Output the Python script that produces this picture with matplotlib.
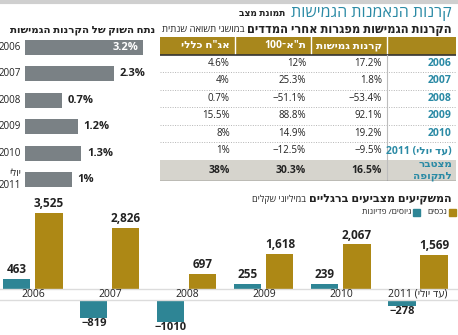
import numpy as np
import matplotlib
matplotlib.use('Agg')
import matplotlib.pyplot as plt
from matplotlib.patches import Rectangle

plt.rcParams['font.family'] = ['Open Sans', 'DejaVu Sans']


def heb(s):
    # matplotlib has no bidi support, so hebrew is written in visual order
    return s[::-1]


# --- data ---
share_labels = ['2006', '2007', '2008', '2009', '2010', heb('יולי') + '\n2011']
share_values = [3.2, 2.3, 0.7, 1.2, 1.3, 1.0]

row_labels = ['2006', '2007', '2008', '2009', '2010', '2011 (' + heb('עד יולי') + ')']
total_label = heb('מצטבר') + '\n' + heb('לתקופה')
col_headers = [heb('קרנות גמישות'), '100' + '\u05be' + heb('ת"א'), heb('אג"ח כללי')]
funds = [17.2, 1.8, -53.4, 92.1, 19.2, -9.5]
ta100 = [12, 25.3, -51.1, 88.8, 14.9, -12.5]
bonds = [4.6, 4, 0.7, 15.5, 8, 1]
totals = [16.5, 30.3, 38]

years = ['2006', '2007', '2008', '2009', '2010', '2011 (' + heb('עד יולי') + ')']
flows = [463, -819, -1010, 255, 239, -278]
assets = [3525, 2826, 697, 1618, 2067, 1569]

# --- colours ---
TEAL_T = '#2a8aa5'
TEAL = '#2e8595'
GOLD = '#ad8815'
GRAY = '#7a8185'
DARK = '#222222'
TOTAL_BG = '#d6d4cd'

W, H = 458, 335
fig = plt.figure(figsize=(W / 100, H / 100), dpi=100)


def fx(x):
    return x / W


def fy(y):
    return 1 - y / H


def pct(v):
    return ('%g%%' % abs(v)) if v >= 0 else '\u2212%g%%' % abs(v)


renderer = fig.canvas.get_renderer()


def left_of(t, text, gap=4, **kw):
    # put a second text run to the left of an existing right-aligned one
    bb = t.get_window_extent(renderer=renderer)
    x, y = t.get_position()
    return fig.text((bb.x0 - gap) / W, y, text, ha='right', va='center', **kw)


# --- header ---
fig.add_artist(plt.Line2D([0, 1], [fy(2), fy(2)], color='#cfcfcf', lw=3))
t = fig.text(fx(452), fy(13), heb('קרנות הנאמנות הגמישות'), ha='right', va='center',
             color=TEAL_T, fontsize=11.5)
left_of(t, heb('תמונת מצב'), gap=6, fontsize=6.5, fontweight='bold', color=DARK)

t = fig.text(fx(452), fy(30), heb('הקרנות הגמישות מפגרות אחרי המדדים'), ha='right',
             va='center', fontsize=8.3, fontweight='bold', color=DARK)
left_of(t, heb('במושגי תשואה שנתית'), gap=3, fontsize=6.8, color=DARK)

fig.text(fx(155), fy(30), heb('נתח השוק של הקרנות הגמישות'), ha='right', va='center',
         fontsize=7.4, fontweight='bold', color=DARK)

# --- market share bars ---
base = -0.44
ax_share = fig.add_axes([fx(25), fy(193), 130 / W, 159 / H])
ys = np.arange(len(share_values))
ax_share.barh(ys, np.array(share_values) - base, left=base, height=0.57, color=GRAY)
ax_share.set_xlim(base, base + 130 / 32.4)
ax_share.set_ylim(len(ys) - 0.5, -0.5)
ax_share.axis('off')
for i, v in enumerate(share_values):
    txt = '%g%%' % v
    if i == 0:
        ax_share.annotate(txt, (v, i), xytext=(-3, 0), textcoords='offset points',
                          ha='right', va='center', color='white', fontsize=8,
                          fontweight='bold')
    else:
        ax_share.annotate(txt, (v, i), xytext=(4, 0), textcoords='offset points',
                          ha='left', va='center', color=DARK, fontsize=8,
                          fontweight='bold')
    ax_share.annotate(share_labels[i], (0, i), xycoords=('axes fraction', 'data'),
                      xytext=(-3, 0), textcoords='offset points', ha='right',
                      va='center', fontsize=7, color=DARK, linespacing=1.1)

# --- table ---
ax_tab = fig.add_axes([fx(160), fy(181), 296 / W, 144 / H])
ax_tab.set_xlim(0, 296)
ax_tab.set_ylim(144, 0)
ax_tab.axis('off')
col_edges = [227, 151, 75, 0]     # right-to-left: funds, ta100, bonds
head_h, row_h = 17.5, 17.5
ax_tab.add_patch(Rectangle((0, 0), 296, head_h, color='#a8871c', lw=0))
for j, h in enumerate(col_headers):
    ax_tab.text(col_edges[j] - 5, head_h / 2, h, ha='right', va='center',
                color='white', fontsize=7.5, fontweight='bold')
for xe in col_edges[:3]:
    ax_tab.plot([xe, xe], [0, head_h], color='white', lw=1)
ax_tab.plot([0, 296], [head_h, head_h], color='#333333', lw=1.2)

cols = [funds, ta100, bonds]
for i, lab in enumerate(row_labels):
    yc = head_h + row_h * (i + 0.5)
    ax_tab.text(292, yc, lab, ha='right', va='center', color=TEAL_T, fontsize=7.5,
                fontweight='bold')
    for j, c in enumerate(cols):
        ax_tab.text(col_edges[j] - 5, yc, pct(c[i]), ha='right', va='center',
                    color=DARK, fontsize=7)
    if i < len(row_labels) - 1:
        yl = head_h + row_h * (i + 1)
        ax_tab.plot([0, 296], [yl, yl], color='#b5b5b5', lw=0.7, ls=(0, (1, 1.5)))

tot_top = head_h + row_h * len(row_labels)
ax_tab.add_patch(Rectangle((0, tot_top), 296, 144 - tot_top, color=TOTAL_BG, lw=0))
tc = (tot_top + 144) / 2
ax_tab.text(292, tc, total_label, ha='right', va='center', color=TEAL_T, fontsize=7.5,
            fontweight='bold', linespacing=1.05)
for j, v in enumerate(totals):
    ax_tab.text(col_edges[j] - 5, tc, '%g%%' % v, ha='right', va='center',
                color=DARK, fontsize=7.5, fontweight='bold')
ax_tab.plot([227, 227], [head_h, 144], color='#bdbdbd', lw=0.8)
ax_tab.plot([0, 296], [143.5, 143.5], color='#555555', lw=1)

# --- investors chart ---
u = 3525 / 76.0          # millions of shekels per pixel
gap = 11 * u             # band reserved for the year labels
ax_bot = fig.add_axes([0, 0, 1, 145 / H])
ax_bot.set_ylim(-46 * u, 99 * u)
ax_bot.set_xlim(-33 / 77, W / 77 - 33 / 77)
ax_bot.axis('off')
x = np.arange(len(years))
off, bw = 16 / 77, 27 / 77
flows_a = np.array(flows)
f_bottom = np.where(flows_a < 0, -gap, 0)
ax_bot.bar(x - off, flows_a, bw, bottom=f_bottom, color=TEAL)
ax_bot.bar(x + off, assets, bw, color=GOLD)
ax_bot.axhline(0, color='#dcdcdc', lw=1)
ax_bot.axhline(-gap, color='#dcdcdc', lw=1)
for i in range(len(years)):
    ax_bot.text(x[i], -gap / 2, years[i], ha='center', va='center', fontsize=7.5,
                color=DARK)
    ax_bot.annotate('{:,}'.format(assets[i]), (x[i] + off, assets[i]), xytext=(0, 2),
                    textcoords='offset points', ha='center', va='bottom',
                    fontsize=8.5, fontweight='bold', color=DARK)
    fv = flows[i]
    if fv >= 0:
        ax_bot.annotate('{:,}'.format(fv), (x[i] - off, fv), xytext=(0, 2),
                        textcoords='offset points', ha='center', va='bottom',
                        fontsize=8.5, fontweight='bold', color=DARK)
    else:
        ax_bot.annotate('\u2212%d' % abs(fv), (x[i] - off, fv - gap), xytext=(0, 0),
                        textcoords='offset points', ha='center', va='top',
                        fontsize=8, fontweight='bold', color=DARK)

t = fig.text(fx(452), fy(199), heb('המשקיעים מצביעים ברגליים'), ha='right', va='center',
             fontsize=8, fontweight='bold', color=DARK)
left_of(t, heb('במיליוני שקלים'), gap=3, fontsize=6.5, color=DARK)

# legend, right to left
fig.add_artist(Rectangle((fx(449), fy(216)), 7 / W, 7 / H, color=GOLD,
                         transform=fig.transFigure))
t = fig.text(fx(447), fy(212.5), heb('נכסים'), ha='right', va='center', fontsize=6,
             color=DARK)
bb = t.get_window_extent(renderer=renderer)
fig.add_artist(Rectangle(((bb.x0 - 14) / W, fy(216)), 7 / W, 7 / H, color=TEAL,
                         transform=fig.transFigure))
fig.text((bb.x0 - 16) / W, fy(212.5), heb('גיוסים/ פדיונות'), ha='right', va='center',
         fontsize=6, color=DARK)

fig.savefig('out.png', dpi=100)
